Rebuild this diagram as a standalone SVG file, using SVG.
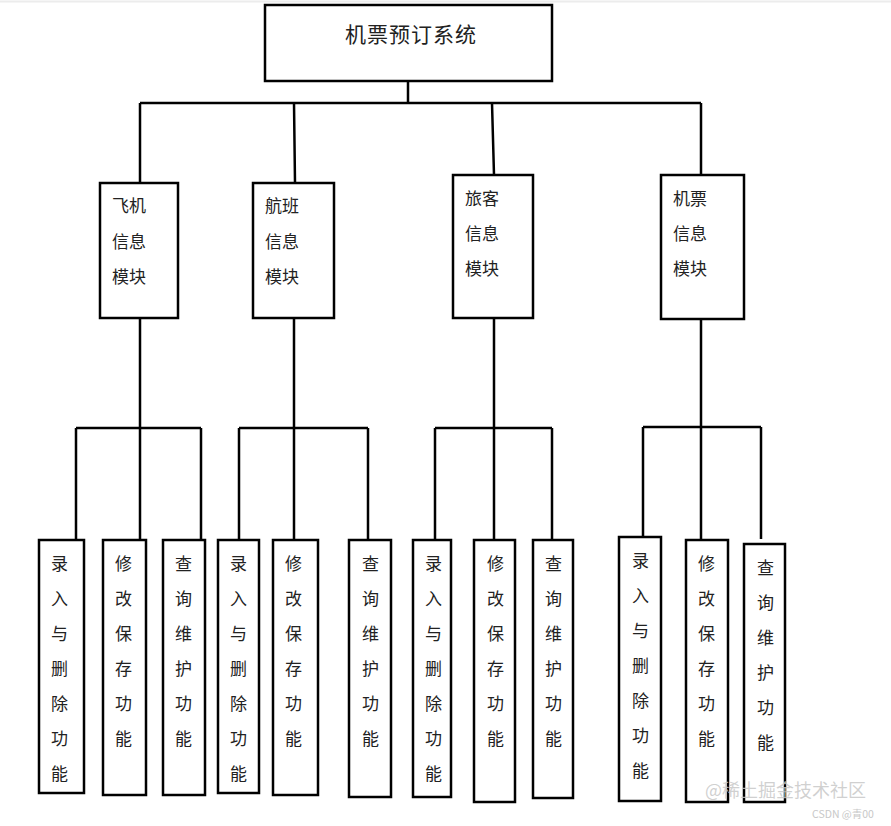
<svg xmlns="http://www.w3.org/2000/svg" width="891" height="826" viewBox="0 0 891 826">
<style>
.box{fill:#fff;stroke:#000;stroke-width:2.5}
.ln{fill:none;stroke:#000;stroke-width:2.5}
.t{font-family:"Noto Sans CJK SC","Noto Sans",sans-serif;font-size:17px;fill:#222}
.title{font-family:"Noto Sans CJK SC","Noto Sans",sans-serif;font-size:21px;fill:#222;letter-spacing:1px}
.wm{font-family:"Noto Sans CJK SC","Noto Sans",sans-serif;fill:#c8c8c8}
</style>
<rect x="0" y="0" width="891" height="826" fill="#fff"/>
<line x1="0" y1="1.5" x2="891" y2="1.5" stroke="#ececec" stroke-width="2"/>
<g id="connectors">
<path class="ln" d="M408 81V103M140 103H701M140 103V183M294 103L295 183M492 103L494 175M701 103V175"/>
<path class="ln" d="M140 318V540M76 428H201M76 428V540M201 428V540"/>
<path class="ln" d="M294 318V540M239 428H368M239 428V540M368 428V540"/>
<path class="ln" d="M494 318V540M435 428H552M435 428V540M552 428V540"/>
<path class="ln" d="M701 319V540M643 427H761M643 427V537M761 427V539"/>
</g>
<g id="root"><rect class="box" x="265" y="5" width="287" height="76"/><text class="title" x="345" y="42">机票预订系统</text></g>
<g id="m1"><rect class="box" x="100" y="183" width="78" height="135"/><text class="t" x="112" y="212">飞机</text><text class="t" x="112" y="248">信息</text><text class="t" x="112" y="283">模块</text></g>
<g id="m2"><rect class="box" x="253" y="183" width="81" height="135"/><text class="t" x="265" y="212">航班</text><text class="t" x="265" y="248">信息</text><text class="t" x="265" y="283">模块</text></g>
<g id="m3"><rect class="box" x="453" y="175" width="80" height="143"/><text class="t" x="465" y="205">旅客</text><text class="t" x="465" y="240">信息</text><text class="t" x="465" y="275">模块</text></g>
<g id="m4"><rect class="box" x="661" y="175" width="83" height="144"/><text class="t" x="673" y="205">机票</text><text class="t" x="673" y="240">信息</text><text class="t" x="673" y="275">模块</text></g>

<g id="l1a"><rect class="box" x="39" y="540" width="45" height="253"/><text class="t" x="51" y="570">录</text><text class="t" x="51" y="605">入</text><text class="t" x="51" y="640">与</text><text class="t" x="51" y="675">删</text><text class="t" x="51" y="710">除</text><text class="t" x="51" y="745">功</text><text class="t" x="51" y="780">能</text></g>
<g id="l1b"><rect class="box" x="103" y="540" width="43" height="255"/><text class="t" x="115" y="570">修</text><text class="t" x="115" y="605">改</text><text class="t" x="115" y="640">保</text><text class="t" x="115" y="675">存</text><text class="t" x="115" y="710">功</text><text class="t" x="115" y="745">能</text></g>
<g id="l1c"><rect class="box" x="163" y="540" width="42" height="255"/><text class="t" x="175" y="570">查</text><text class="t" x="175" y="605">询</text><text class="t" x="175" y="640">维</text><text class="t" x="175" y="675">护</text><text class="t" x="175" y="710">功</text><text class="t" x="175" y="745">能</text></g>

<g id="l2a"><rect class="box" x="218" y="540" width="41" height="253"/><text class="t" x="230" y="570">录</text><text class="t" x="230" y="605">入</text><text class="t" x="230" y="640">与</text><text class="t" x="230" y="675">删</text><text class="t" x="230" y="710">除</text><text class="t" x="230" y="745">功</text><text class="t" x="230" y="780">能</text></g>
<g id="l2b"><rect class="box" x="273" y="540" width="45" height="255"/><text class="t" x="285" y="570">修</text><text class="t" x="285" y="605">改</text><text class="t" x="285" y="640">保</text><text class="t" x="285" y="675">存</text><text class="t" x="285" y="710">功</text><text class="t" x="285" y="745">能</text></g>
<g id="l2c"><rect class="box" x="349" y="540" width="42" height="257"/><text class="t" x="362" y="570">查</text><text class="t" x="362" y="605">询</text><text class="t" x="362" y="640">维</text><text class="t" x="362" y="675">护</text><text class="t" x="362" y="710">功</text><text class="t" x="362" y="745">能</text></g>

<g id="l3a"><rect class="box" x="413" y="540" width="38" height="257"/><text class="t" x="425" y="570">录</text><text class="t" x="425" y="605">入</text><text class="t" x="425" y="640">与</text><text class="t" x="425" y="675">删</text><text class="t" x="425" y="710">除</text><text class="t" x="425" y="745">功</text><text class="t" x="425" y="780">能</text></g>
<g id="l3b"><rect class="box" x="474" y="540" width="41" height="262"/><text class="t" x="487" y="570">修</text><text class="t" x="487" y="605">改</text><text class="t" x="487" y="640">保</text><text class="t" x="487" y="675">存</text><text class="t" x="487" y="710">功</text><text class="t" x="487" y="745">能</text></g>
<g id="l3c"><rect class="box" x="533" y="540" width="40" height="258"/><text class="t" x="545" y="570">查</text><text class="t" x="545" y="605">询</text><text class="t" x="545" y="640">维</text><text class="t" x="545" y="675">护</text><text class="t" x="545" y="710">功</text><text class="t" x="545" y="745">能</text></g>

<g id="l4a"><rect class="box" x="619" y="537" width="42" height="264"/><text class="t" x="632" y="567">录</text><text class="t" x="632" y="602">入</text><text class="t" x="632" y="637">与</text><text class="t" x="632" y="672">删</text><text class="t" x="632" y="707">除</text><text class="t" x="632" y="742">功</text><text class="t" x="632" y="777">能</text></g>
<g id="l4b"><rect class="box" x="686" y="540" width="42" height="262"/><text class="t" x="698" y="570">修</text><text class="t" x="698" y="605">改</text><text class="t" x="698" y="640">保</text><text class="t" x="698" y="675">存</text><text class="t" x="698" y="710">功</text><text class="t" x="698" y="745">能</text></g>
<g id="l4c"><rect class="box" x="744" y="544" width="41" height="258"/><text class="t" x="757" y="574">查</text><text class="t" x="757" y="609">询</text><text class="t" x="757" y="644">维</text><text class="t" x="757" y="679">护</text><text class="t" x="757" y="714">功</text><text class="t" x="757" y="749">能</text></g>

<text class="wm" x="705" y="797" font-size="18" fill-opacity="0.85">@稀土掘金技术社区</text>
<text class="wm" x="812" y="818" font-size="10.5" fill="#b0b0b0">CSDN @青00</text>
</svg>
